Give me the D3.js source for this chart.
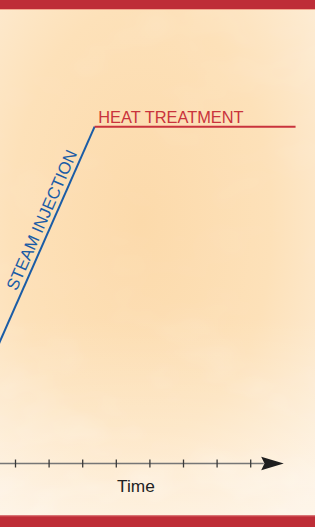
<!DOCTYPE html>
<html>
<head>
<meta charset="utf-8">
<script src="https://cdn.jsdelivr.net/npm/d3@7"></script>
<style>
  html, body { margin: 0; padding: 0; background: #fde4bd; }
  svg { display: block; }
</style>
</head>
<body>
<svg id="chart" width="315" height="527"></svg>
<script>
// tick positions along the time axis (unitless)
let timeTicks = [0, 1, 2, 3, 4, 5, 6, 7];
let timeEnd = 8;

// temperature profile, in % of treatment temperature
let steamInjection = [
  { t: -2.05, temp: 0 },
  { t: 2.37, temp: 100 }
];
let heatTreatment = [
  { t: 2.37, temp: 100 },
  { t: 8.35, temp: 100 }
];

let labels = ["STEAM INJECTION", "HEAT TREATMENT"];
let axisLabel = "Time";

let svg = d3.select("#chart");
let width = +svg.attr("width");
let height = +svg.attr("height");

let axisY = 463.5;
let x = d3.scaleLinear().domain([0, 7]).range([15, 250.2]);
let y = d3.scaleLinear().domain([0, 100]).range([axisY, 126.7]);

// background
let defs = svg.append("defs");
let bg = defs.append("radialGradient")
  .attr("id", "bg")
  .attr("cx", 0.45).attr("cy", 0.42).attr("r", 0.75);
bg.append("stop").attr("offset", "0%").attr("stop-color", "#fcdaab");
bg.append("stop").attr("offset", "55%").attr("stop-color", "#fde1b9");
bg.append("stop").attr("offset", "100%").attr("stop-color", "#fdeed9");

let fog = defs.append("linearGradient")
  .attr("id", "fog").attr("x1", 0).attr("y1", 0).attr("x2", 0).attr("y2", 1);
fog.append("stop").attr("offset", "0%").attr("stop-color", "#fff").attr("stop-opacity", 0);
fog.append("stop").attr("offset", "60%").attr("stop-color", "#fff").attr("stop-opacity", 0);
fog.append("stop").attr("offset", "100%").attr("stop-color", "#fff").attr("stop-opacity", 0.45);

let fade = defs.append("linearGradient")
  .attr("id", "fade").attr("x1", 0).attr("y1", 0).attr("x2", 0).attr("y2", 1);
fade.append("stop").attr("offset", "0%").attr("stop-color", "#fff").attr("stop-opacity", 0.3);
fade.append("stop").attr("offset", "55%").attr("stop-color", "#fff").attr("stop-opacity", 0.15);
fade.append("stop").attr("offset", "100%").attr("stop-color", "#fff").attr("stop-opacity", 1);
defs.append("mask").attr("id", "cloudMask")
  .append("rect").attr("width", width).attr("height", height).attr("fill", "url(#fade)");

let clouds = defs.append("filter").attr("id", "clouds")
  .attr("x", 0).attr("y", 0).attr("width", 1).attr("height", 1);
clouds.append("feTurbulence")
  .attr("type", "fractalNoise")
  .attr("baseFrequency", "0.012 0.02")
  .attr("numOctaves", 3)
  .attr("seed", 4);
clouds.append("feColorMatrix")
  .attr("type", "matrix")
  .attr("values", "0 0 0 0 1  0 0 0 0 1  0 0 0 0 1  0 0 0 1.6 -0.75");

svg.append("rect").attr("width", width).attr("height", height).attr("fill", "url(#bg)");
svg.append("rect").attr("width", width).attr("height", height).attr("fill", "url(#fog)");
svg.append("g").attr("mask", "url(#cloudMask)")
  .append("rect").attr("width", width).attr("height", height)
  .attr("filter", "url(#clouds)").attr("opacity", 0.55);

// red bands top and bottom
svg.append("rect").attr("x", 0).attr("y", 0).attr("width", width).attr("height", 9).attr("fill", "#be2d37");
svg.append("rect").attr("x", 0).attr("y", 9).attr("width", width).attr("height", 1).attr("fill", "#f3a88f");
svg.append("rect").attr("x", 0).attr("y", 515.5).attr("width", width).attr("height", height - 515.5).attr("fill", "#be2d37");
svg.append("rect").attr("x", 0).attr("y", 515.5).attr("width", width).attr("height", 1).attr("fill", "#d45a5f");

// time axis
let axis = svg.append("g");
axis.append("line")
  .attr("x1", 0).attr("x2", x(timeEnd) - 20)
  .attr("y1", axisY).attr("y2", axisY)
  .attr("stroke", "#767676").attr("stroke-width", 1.6);

let ticks = svg.append("g")
  .attr("transform", `translate(0,${axisY - 4})`)
  .call(d3.axisBottom(x).tickValues(timeTicks).tickSize(8).tickFormat(""));
ticks.select(".domain").remove();
ticks.selectAll(".tick line").attr("stroke", "#3a3a3a").attr("stroke-width", 1.3);

let tip = x(timeEnd);
axis.append("path")
  .attr("d", `M${tip},${axisY} L${tip - 22.6},${axisY - 6.7} L${tip - 19.3},${axisY} L${tip - 22.6},${axisY + 6.7} Z`)
  .attr("fill", "#1e1e1e");

axis.append("text")
  .text(axisLabel)
  .attr("x", x(3.6))
  .attr("y", 491.7)
  .attr("text-anchor", "middle")
  .style("font-family", "Liberation Sans, Arial, sans-serif")
  .style("font-size", "17.3px")
  .attr("fill", "#222");

// profile lines
let line = d3.line().x(d => x(d.t)).y(d => y(d.temp));

svg.append("path")
  .datum(steamInjection)
  .attr("d", line)
  .attr("fill", "none")
  .attr("stroke", "#1a5ca6")
  .attr("stroke-width", 2);

svg.append("path")
  .datum(heatTreatment)
  .attr("d", line)
  .attr("fill", "none")
  .attr("stroke", "#c9333c")
  .attr("stroke-width", 2);

// label along the steam injection ramp
let p0 = [x(steamInjection[0].t), y(steamInjection[0].temp)];
let p1 = [x(steamInjection[1].t), y(steamInjection[1].temp)];
let angle = Math.atan2(p1[1] - p0[1], p1[0] - p0[0]) * 180 / Math.PI;
let f = 0.71;
let lx = p0[0] + f * (p1[0] - p0[0]);
let ly = p0[1] + f * (p1[1] - p0[1]);

svg.append("text")
  .text(labels[0])
  .attr("transform", `translate(${lx},${ly}) rotate(${angle}) translate(0,-5)`)
  .attr("text-anchor", "middle")
  .style("font-family", "Liberation Sans, Arial, sans-serif")
  .style("font-size", "16.8px")
  .attr("fill", "#1a5ca6");

svg.append("text")
  .text(labels[1])
  .attr("x", x(heatTreatment[0].t) + 3.6)
  .attr("y", y(heatTreatment[0].temp) - 3.4)
  .style("font-family", "Liberation Sans, Arial, sans-serif")
  .style("font-size", "16.4px")
  .attr("fill", "#c9333c");
</script>
</body>
</html>
